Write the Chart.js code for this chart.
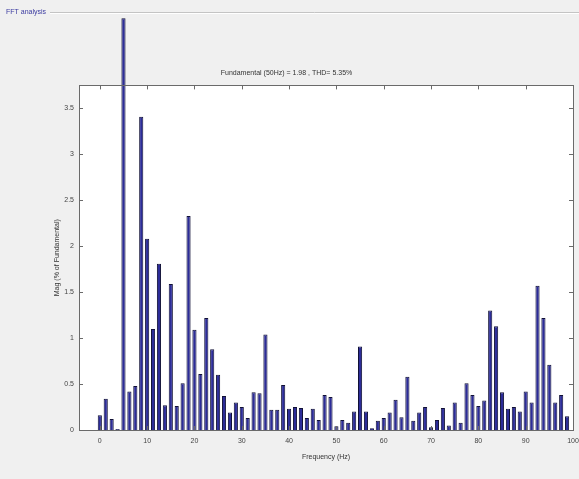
<!DOCTYPE html>
<html>
<head>
<meta charset="utf-8">
<script src="https://cdn.jsdelivr.net/npm/chart.js@4/dist/chart.umd.min.js"></script>
<style>
  html, body { margin: 0; padding: 0; background: #f0f0f0; }
  #wrap { width: 579px; height: 479px; }
</style>
</head>
<body>
<div id="wrap"><canvas id="fft" width="579" height="479"></canvas></div>
<script>
// spectrum
let freqs = [0, 1.25, 2.5, 3.75, 5, 6.25, 7.5, 8.75, 10, 11.25,
	12.5, 13.75, 15, 16.25, 17.5, 18.75, 20, 21.25, 22.5, 23.75,
	25, 26.25, 27.5, 28.75, 30, 31.25, 32.5, 33.75, 35, 36.25,
	37.5, 38.75, 40, 41.25, 42.5, 43.75, 45, 46.25, 47.5, 48.75,
	50, 51.25, 52.5, 53.75, 55, 56.25, 57.5, 58.75, 60, 61.25,
	62.5, 63.75, 65, 66.25, 67.5, 68.75, 70, 71.25, 72.5, 73.75,
	75, 76.25, 77.5, 78.75, 80, 81.25, 82.5, 83.75, 85, 86.25,
	87.5, 88.75, 90, 91.25, 92.5, 93.75, 95, 96.25, 97.5, 98.75];
let mags = [0.16, 0.34, 0.12, 0.01, 4.48, 0.42, 0.48, 3.41, 2.08, 1.10,
	1.81, 0.27, 1.59, 0.26, 0.51, 2.33, 1.09, 0.61, 1.22, 0.88,
	0.60, 0.37, 0.19, 0.30, 0.25, 0.13, 0.41, 0.40, 1.04, 0.22,
	0.22, 0.49, 0.23, 0.25, 0.24, 0.13, 0.23, 0.11, 0.38, 0.36,
	0.04, 0.11, 0.08, 0.20, 0.91, 0.20, 0.02, 0.10, 0.13, 0.19,
	0.33, 0.14, 0.58, 0.10, 0.19, 0.25, 0.03, 0.11, 0.24, 0.05,
	0.30, 0.08, 0.51, 0.38, 0.26, 0.32, 1.30, 1.13, 0.41, 0.23,
	0.25, 0.20, 0.42, 0.30, 1.57, 1.22, 0.71, 0.30, 0.38, 0.15];
let xTicks = [0, 10, 20, 30, 40, 50, 60, 70, 80, 90, 100];
let yTicks = [0, 0.5, 1, 1.5, 2, 2.5, 3, 3.5];
let titleText = 'Fundamental (50Hz) = 1.98 , THD= 5.35%';

let tickFont = {family: 'Liberation Sans', size: 7};

// MATLAB-like axes box, inward ticks and the uipanel frame
let matlabAxes = {
	id: 'matlabAxes',
	beforeDraw: function(chart){
		let ctx = chart.ctx;
		let a = chart.chartArea;
		ctx.save();
		ctx.strokeStyle = '#c4c4c4';
		ctx.lineWidth = 1;
		ctx.beginPath();
		ctx.moveTo(50, 12.5); ctx.lineTo(579, 12.5);
		ctx.stroke();
		ctx.strokeStyle = '#ffffff';
		ctx.beginPath();
		ctx.moveTo(50, 13.5); ctx.lineTo(579, 13.5);
		ctx.stroke();
		ctx.fillStyle = '#3a3aa0';
		ctx.font = '7px "Liberation Sans"';
		ctx.textBaseline = 'middle';
		ctx.fillText('FFT analysis', 6, 12);
		ctx.fillStyle = '#ffffff';
		ctx.fillRect(a.left, a.top, a.right - a.left, a.bottom - a.top);
		ctx.restore();
	},
	afterDatasetsDraw: function(chart){
		let ctx = chart.ctx;
		let a = chart.chartArea;
		let xs = chart.scales.x, ys = chart.scales.y;
		ctx.save();
		ctx.strokeStyle = '#6a6a6a';
		ctx.lineWidth = 1;
		ctx.strokeRect(Math.round(a.left) + 0.5, Math.round(a.top) + 0.5,
			Math.round(a.right - a.left), Math.round(a.bottom - a.top));
		ctx.beginPath();
		for(let i = 0; i < xTicks.length; i++){
			let px = Math.round(xs.getPixelForValue(xTicks[i])) + 0.5;
			ctx.moveTo(px, a.bottom); ctx.lineTo(px, a.bottom - 4);
			ctx.moveTo(px, a.top); ctx.lineTo(px, a.top + 4);
		}
		for(let i = 0; i < yTicks.length; i++){
			let py = Math.round(ys.getPixelForValue(yTicks[i])) + 0.5;
			ctx.moveTo(a.left, py); ctx.lineTo(a.left + 4, py);
			ctx.moveTo(a.right, py); ctx.lineTo(a.right - 4, py);
		}
		ctx.stroke();
		ctx.restore();
	}
};

let points = [];
for(let i = 0; i < freqs.length; i++){
	points.push({x: freqs[i], y: mags[i]});
}

new Chart(document.getElementById('fft').getContext('2d'), {
	type: 'bar',
	data: {
		datasets: [{
			label: 'Mag',
			data: points,
			backgroundColor: '#2c2c98',
			borderColor: '#111136',
			borderWidth: 1,
			barPercentage: 0.7,
			categoryPercentage: 1,
			clip: false
		}]
	},
	options: {
		responsive: false,
		animation: false,
		layout: {padding: {left: 0, right: 6, top: 69, bottom: 15}},
		plugins: {
			legend: {display: false},
			tooltip: {enabled: false},
			title: {
				display: true,
				text: titleText,
				color: '#333333',
				font: {family: 'Liberation Sans', size: 7, weight: 'normal'},
				padding: {top: 0, bottom: 8}
			}
		},
		scales: {
			x: {
				type: 'linear',
				offset: false,
				min: -4.4,
				max: 100,
				grid: {display: false, drawTicks: false},
				border: {display: false},
				afterBuildTicks: function(s){ s.ticks = xTicks.map(function(v){ return {value: v}; }); },
				afterFit: function(s){ s.height = 34; s.paddingLeft = 0; s.paddingRight = 0; },
				ticks: {
					font: tickFont, color: '#444444', padding: 7, maxRotation: 0,
					callback: function(v){ return String(v); }
				},
				title: {
					display: true, text: 'Frequency (Hz)', color: '#333333',
					font: tickFont, padding: {top: 2, bottom: 3}
				}
			},
			y: {
				min: 0,
				max: 3.75,
				grid: {display: false, drawTicks: false},
				border: {display: false},
				afterBuildTicks: function(s){ s.ticks = yTicks.map(function(v){ return {value: v}; }); },
				afterFit: function(s){ s.width = 79; s.paddingTop = 0; s.paddingBottom = 0; },
				ticks: {
					font: tickFont, color: '#444444', padding: 5,
					callback: function(v){ return String(v); }
				},
				title: {
					display: true, text: 'Mag (% of Fundamental)', color: '#333333',
					font: tickFont, padding: {top: 53, bottom: 0}
				}
			}
		}
	},
	plugins: [matlabAxes]
});
</script>
</body>
</html>
